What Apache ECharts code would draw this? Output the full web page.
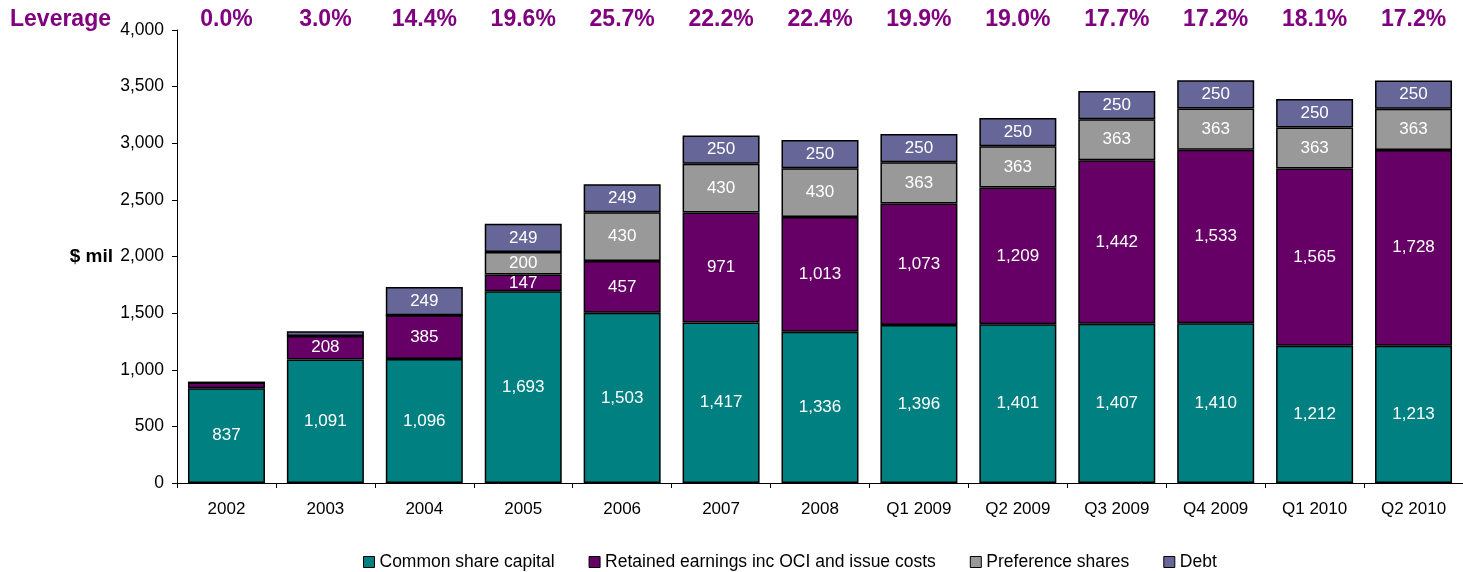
<!DOCTYPE html>
<html>
<head>
<meta charset="utf-8">
<script src="https://cdn.jsdelivr.net/npm/echarts@6/dist/echarts.min.js"></script>
<style>
  html, body { margin: 0; padding: 0; background: #fff; }
  #chart { width: 1463px; height: 572px; }
</style>
</head>
<body>
<div id="chart"></div>
<script>
// categories and values
const periods = ['2002', '2003', '2004', '2005', '2006', '2007', '2008', 'Q1 2009', 'Q2 2009', 'Q3 2009', 'Q4 2009', 'Q1 2010', 'Q2 2010']
const leverage = ['0.0%', '3.0%', '14.4%', '19.6%', '25.7%', '22.2%', '22.4%', '19.9%', '19.0%', '17.7%', '17.2%', '18.1%', '17.2%']
const commonShare = [837, 1091, 1096, 1693, 1503, 1417, 1336, 1396, 1401, 1407, 1410, 1212, 1213]
const retained = [50, 208, 385, 147, 457, 971, 1013, 1073, 1209, 1442, 1533, 1565, 1728]
const preference = [0, 0, 0, 200, 430, 430, 430, 363, 363, 363, 363, 363, 363]
const debt = [0, 40, 249, 249, 249, 250, 250, 250, 250, 250, 250, 250, 250]
const yTicks = [0, 500, 1000, 1500, 2000, 2500, 3000, 3500, 4000]

const font = 'Liberation Sans, Arial, sans-serif'
const fmt = v => v.toLocaleString('en-US')

const makeSeries = (name, data, color) => ({
  name,
  type: 'bar',
  stack: 'total',
  barWidth: 77,
  data,
  itemStyle: { color, borderColor: '#000', borderWidth: 1.5 },
  label: {
    show: true,
    position: 'inside',
    color: '#fff',
    fontFamily: font,
    fontSize: 17,
    // thin slivers carry no label in the original
    formatter: p => (p.value >= 100 ? fmt(p.value) : '')
  }
})

const chart = echarts.init(document.getElementById('chart'))

const option = {
  animation: false,
  textStyle: { fontFamily: font },
  grid: { left: 177, top: 30, width: 1291, height: 453 },
  graphic: [
    {
      type: 'text',
      left: 10,
      top: 8,
      style: { text: 'Leverage', fill: '#800080', font: 'bold 23px ' + font }
    }
  ],
  legend: {
    bottom: -4,
    left: 358,
    itemWidth: 11,
    itemHeight: 11,
    itemGap: 34,
    icon: 'rect',
    itemStyle: { borderColor: '#000', borderWidth: 1 },
    textStyle: { fontSize: 17.5, color: '#000', fontFamily: font },
    data: ['Common share capital', 'Retained earnings inc OCI and issue costs', 'Preference shares', 'Debt']
  },
  xAxis: [
    {
      type: 'category',
      data: periods,
      axisLine: { lineStyle: { color: '#000', width: 1 } },
      axisTick: { show: true, length: 5, lineStyle: { color: '#000' } },
      axisLabel: { color: '#000', fontSize: 17, margin: 18, fontFamily: font }
    },
    {
      type: 'category',
      position: 'top',
      data: leverage,
      axisLine: { show: false },
      axisTick: { show: false },
      axisLabel: { color: '#800080', fontSize: 23, fontWeight: 'bold', margin: -1, fontFamily: font }
    }
  ],
  yAxis: {
    type: 'value',
    min: yTicks[0],
    max: yTicks[yTicks.length - 1],
    interval: 500,
    name: '$ mil',
    nameLocation: 'middle',
    nameRotate: 0,
    nameGap: 64,
    nameTextStyle: { fontWeight: 'bold', fontSize: 19, color: '#000', fontFamily: font, align: 'right' },
    axisLine: { show: true, lineStyle: { color: '#000' } },
    axisTick: { show: true, length: 5, lineStyle: { color: '#000' } },
    splitLine: { show: false },
    axisLabel: { color: '#000', fontSize: 17.5, margin: 13, formatter: v => fmt(v), fontFamily: font }
  },
  series: [
    makeSeries('Common share capital', commonShare, '#008080'),
    makeSeries('Retained earnings inc OCI and issue costs', retained, '#660066'),
    makeSeries('Preference shares', preference, '#999999'),
    makeSeries('Debt', debt, '#666699')
  ]
}

chart.setOption(option)
</script>
</body>
</html>
